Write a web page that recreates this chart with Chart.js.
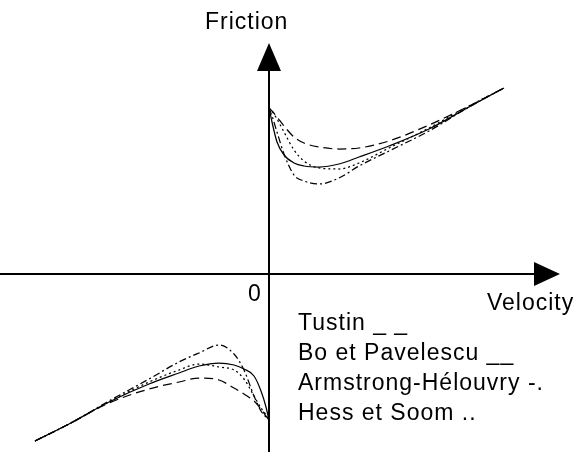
<!DOCTYPE html>
<html>
<head>
<meta charset="utf-8">
<script src="https://cdn.jsdelivr.net/npm/chart.js@4"></script>
<style>
  body { margin: 0; background: #fff; }
  #wrap { width: 585px; height: 452px; }
</style>
</head>
<body>
<div id="wrap"><canvas id="frictionChart"></canvas></div>
<script>
// velocity samples (negative branch, gap, positive branch)
const velocity = [-2.34, -2.0, -1.6, -1.2, -0.9, -0.7, -0.5, -0.35, -0.25, -0.15, -0.08, -0.03, 0,
  0,
  0, 0.03, 0.08, 0.15, 0.25, 0.35, 0.5, 0.7, 0.9, 1.2, 1.6, 2.0, 2.35];

// friction for each model (null = break at v = 0)
const tustin = [-1.67, -1.50, -1.29, -1.15, -1.08, -1.04, -1.06, -1.14, -1.20, -1.27, -1.35, -1.42, -1.46,
  null,
  1.66, 1.63, 1.57, 1.48, 1.37, 1.31, 1.27, 1.25, 1.26, 1.33, 1.49, 1.68, 1.86];
const boPavelescu = [-1.67, -1.50, -1.28, -1.10, -0.99, -0.92, -0.89, -0.91, -0.95, -1.02, -1.17, -1.33, -1.46,
  null,
  1.66, 1.52, 1.32, 1.19, 1.11, 1.08, 1.07, 1.10, 1.17, 1.28, 1.45, 1.67, 1.86];
const armstrong = [-1.67, -1.50, -1.27, -1.05, -0.88, -0.79, -0.71, -0.80, -0.96, -1.22, -1.37, -1.43, -1.46,
  null,
  1.66, 1.58, 1.42, 1.20, 0.99, 0.93, 0.90, 0.96, 1.08, 1.23, 1.43, 1.67, 1.86];
const hessSoom = [-1.67, -1.50, -1.28, -1.08, -0.96, -0.90, -0.93, -0.96, -1.05, -1.22, -1.34, -1.41, -1.46,
  null,
  1.66, 1.63, 1.55, 1.42, 1.24, 1.13, 1.06, 1.05, 1.11, 1.26, 1.46, 1.68, 1.86];

const legendLines = ['Tustin _ _', 'Bo et Pavelescu __', 'Armstrong-Hélouvry -.', 'Hess et Soom ..'];

function points(values) {
  return velocity.map((v, i) => ({ x: v, y: values[i] }));
}

function curve(label, values, dash) {
  return {
    label: label,
    data: points(values),
    borderColor: '#000',
    borderWidth: 1.25,
    borderDash: dash,
    pointRadius: 0,
    showLine: true,
    fill: false,
    spanGaps: false,
    cubicInterpolationMode: 'monotone'
  };
}

// axes with arrow heads and the hand-placed labels
const axesPlugin = {
  id: 'axesPlugin',
  afterDatasetsDraw(chart) {
    const ctx = chart.ctx;
    const xs = chart.scales.x, ys = chart.scales.y;
    const x0 = xs.getPixelForValue(0), y0 = ys.getPixelForValue(0);
    const xTip = xs.getPixelForValue(2.91), xBase = xs.getPixelForValue(2.65);
    const yTip = ys.getPixelForValue(2.31), yBase = ys.getPixelForValue(2.03);
    ctx.save();
    ctx.strokeStyle = '#000';
    ctx.fillStyle = '#000';
    ctx.lineWidth = 2;
    ctx.beginPath();
    ctx.moveTo(0, y0); ctx.lineTo(xBase, y0);
    ctx.moveTo(x0, chart.height); ctx.lineTo(x0, yBase);
    ctx.stroke();
    ctx.beginPath();
    ctx.moveTo(xTip, y0); ctx.lineTo(xBase, y0 - 12); ctx.lineTo(xBase, y0 + 12); ctx.closePath();
    ctx.fill();
    ctx.beginPath();
    ctx.moveTo(x0, yTip); ctx.lineTo(x0 - 12, yBase); ctx.lineTo(x0 + 12, yBase); ctx.closePath();
    ctx.fill();

    ctx.font = '23px "Liberation Sans", Arial, sans-serif';
    ctx.letterSpacing = '1px';
    ctx.textBaseline = 'alphabetic';
    ctx.textAlign = 'left';
    ctx.fillText('Friction', 205, 29);
    ctx.fillText('0', 248, 301);
    ctx.fillText('Velocity', 487, 310);
    legendLines.forEach((t, i) => ctx.fillText(t, 298, 330 + i * 30));
    ctx.restore();
  }
};

const chart = new Chart(document.getElementById('frictionChart').getContext('2d'), {
  type: 'scatter',
  data: {
    datasets: [
      curve('Tustin', tustin, [9, 5]),
      curve('Bo et Pavelescu', boPavelescu, []),
      curve('Armstrong-Hélouvry', armstrong, [7, 3, 2, 3]),
      curve('Hess et Soom', hessSoom, [2, 3])
    ]
  },
  options: {
    responsive: true,
    maintainAspectRatio: false,
    animation: false,
    layout: { padding: 0 },
    plugins: {
      legend: { display: false },
      tooltip: { enabled: false }
    },
    scales: {
      x: { type: 'linear', min: -2.69, max: 3.16, display: false },
      y: { type: 'linear', min: -1.78, max: 2.74, display: false }
    }
  },
  plugins: [axesPlugin]
});
</script>
</body>
</html>
